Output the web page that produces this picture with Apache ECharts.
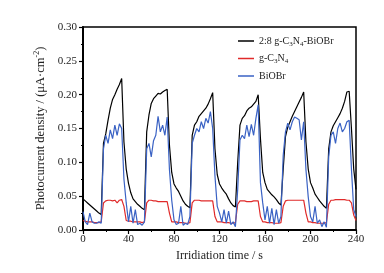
<!DOCTYPE html>
<html>
<head>
<meta charset="utf-8">
<script src="https://cdn.jsdelivr.net/npm/echarts@6/dist/echarts.min.js"></script>
<style>
  html, body { margin: 0; padding: 0; background: #fff; }
  #chart { width: 384px; height: 273px; }
</style>
</head>
<body>
<div id="chart"></div>
<script>
// 时间轴 (s)，步长 2
const times = [
    0, 2, 4, 6, 8, 10, 12, 14, 16, 18, 20, 22, 24, 26, 28, 30, 32, 34, 36, 38,
    40, 42, 44, 46, 48, 50, 52, 54, 56, 58, 60, 62, 64, 66, 68, 70, 72, 74, 76, 78,
    80, 82, 84, 86, 88, 90, 92, 94, 96, 98, 100, 102, 104, 106, 108, 110, 112, 114, 116, 118,
    120, 122, 124, 126, 128, 130, 132, 134, 136, 138, 140, 142, 144, 146, 148, 150, 152, 154, 156, 158,
    160, 162, 164, 166, 168, 170, 172, 174, 176, 178, 180, 182, 184, 186, 188, 190, 192, 194, 196, 198,
    200, 202, 204, 206, 208, 210, 212, 214, 216, 218, 220, 222, 224, 226, 228, 230, 232, 234, 236, 238,
    240
];

// 2:8 g-C3N4-BiOBr
const composite = [
    0.046, 0.043, 0.040, 0.037, 0.034, 0.031, 0.028, 0.025, 0.023, 0.128, 0.142, 0.162, 0.180, 0.193, 0.200, 0.208, 0.215, 0.224, 0.130, 0.090,
    0.069, 0.055, 0.046, 0.042, 0.038, 0.035, 0.032, 0.030, 0.145, 0.170, 0.187, 0.194, 0.198, 0.202, 0.201, 0.204, 0.206, 0.208, 0.125, 0.085,
    0.068, 0.062, 0.057, 0.050, 0.043, 0.038, 0.035, 0.033, 0.140, 0.155, 0.160, 0.168, 0.172, 0.176, 0.180, 0.186, 0.194, 0.203, 0.120, 0.082,
    0.068, 0.062, 0.057, 0.053, 0.046, 0.040, 0.036, 0.034, 0.100, 0.155, 0.165, 0.169, 0.176, 0.180, 0.182, 0.186, 0.190, 0.200, 0.135, 0.085,
    0.070, 0.060, 0.056, 0.052, 0.049, 0.045, 0.040, 0.037, 0.090, 0.138, 0.152, 0.160, 0.168, 0.175, 0.182, 0.189, 0.196, 0.204, 0.130, 0.090,
    0.070, 0.062, 0.053, 0.048, 0.043, 0.039, 0.035, 0.032, 0.120, 0.145, 0.154, 0.160, 0.166, 0.172, 0.180, 0.190, 0.204, 0.205, 0.150, 0.090,
    0.060
];

// g-C3N4
const gcn = [
    0.014, 0.013, 0.012, 0.012, 0.012, 0.011, 0.011, 0.011, 0.012, 0.040, 0.043, 0.044, 0.044, 0.043, 0.044, 0.040, 0.044, 0.045, 0.035, 0.014,
    0.013, 0.013, 0.012, 0.012, 0.012, 0.012, 0.011, 0.012, 0.040, 0.044, 0.044, 0.043, 0.043, 0.042, 0.042, 0.042, 0.042, 0.042, 0.025, 0.012,
    0.012, 0.012, 0.011, 0.011, 0.011, 0.010, 0.010, 0.011, 0.040, 0.044, 0.044, 0.044, 0.043, 0.043, 0.043, 0.043, 0.043, 0.043, 0.020, 0.012,
    0.012, 0.012, 0.011, 0.011, 0.011, 0.010, 0.010, 0.011, 0.038, 0.043, 0.043, 0.043, 0.042, 0.042, 0.042, 0.043, 0.043, 0.043, 0.020, 0.012,
    0.012, 0.011, 0.011, 0.011, 0.010, 0.010, 0.010, 0.011, 0.035, 0.043, 0.044, 0.044, 0.044, 0.044, 0.044, 0.044, 0.044, 0.044, 0.025, 0.012,
    0.012, 0.011, 0.011, 0.010, 0.010, 0.010, 0.010, 0.011, 0.038, 0.044, 0.044, 0.045, 0.045, 0.045, 0.045, 0.045, 0.044, 0.044, 0.040, 0.022,
    0.014
];

// BiOBr
const biobr = [
    0.027, 0.012, 0.008, 0.025, 0.012, 0.010, 0.010, 0.012, 0.010, 0.120, 0.140, 0.128, 0.148, 0.135, 0.155, 0.140, 0.157, 0.150, 0.075, 0.040,
    0.012, 0.035, 0.010, 0.030, 0.008, 0.010, 0.007, 0.012, 0.120, 0.128, 0.108, 0.132, 0.140, 0.168, 0.145, 0.155, 0.140, 0.167, 0.089, 0.044,
    0.015, 0.008, 0.010, 0.035, 0.007, 0.010, 0.008, 0.020, 0.128, 0.140, 0.150, 0.145, 0.160, 0.150, 0.165, 0.158, 0.175, 0.150, 0.080, 0.035,
    0.025, 0.012, 0.030, 0.010, 0.028, 0.008, 0.012, 0.005, 0.060, 0.133, 0.140, 0.135, 0.155, 0.138, 0.156, 0.140, 0.165, 0.185, 0.070, 0.040,
    0.015, 0.035, 0.010, 0.032, 0.008, 0.030, 0.010, 0.020, 0.110, 0.145, 0.158, 0.148, 0.160, 0.167, 0.165, 0.163, 0.133, 0.160, 0.089, 0.049,
    0.020, 0.012, 0.035, 0.010, 0.015, 0.005, 0.012, 0.004, 0.108, 0.140, 0.145, 0.128, 0.150, 0.158, 0.145, 0.150, 0.160, 0.162, 0.090, 0.030,
    0.020
];

const seriesNames = ['2:8 g-C3N4-BiOBr', 'g-C3N4', 'BiOBr'];
const seriesLabels = {
    '2:8 g-C3N4-BiOBr': '2:8 g-C{sub|3}N{sub|4}-BiOBr',
    'g-C3N4': 'g-C{sub|3}N{sub|4}',
    'BiOBr': 'BiOBr'
};

const font = 'Liberation Serif';
const pair = (arr) => times.map((t, i) => [t, arr[i]]);

const chart = echarts.init(document.getElementById('chart'));
chart.setOption({
    animation: false,
    backgroundColor: '#fff',
    grid: {
        left: 83, right: 28, top: 27, bottom: 43,
        show: true, borderColor: '#000', borderWidth: 1.5
    },
    legend: {
        orient: 'vertical',
        left: 233, top: 31,
        icon: 'rect',
        itemWidth: 16, itemHeight: 1.5, itemGap: 6, itemTextGap: 4,
        data: seriesNames,
        formatter: (name) => seriesLabels[name],
        textStyle: {
            fontFamily: font, fontSize: 10, color: '#222',
            rich: { sub: { fontFamily: font, fontSize: 7, color: '#222', verticalAlign: 'bottom', padding: [6, 0, 0, 0] } }
        }
    },
    xAxis: {
        type: 'value', min: 0, max: 240, interval: 40,
        name: 'Irridiation time / s', nameLocation: 'middle', nameGap: 19,
        nameTextStyle: { fontFamily: font, fontSize: 12, color: '#222' },
        axisLine: { onZero: false, lineStyle: { color: '#000', width: 2 } },
        axisTick: { length: 4, lineStyle: { color: '#000', width: 1.2 } },
        minorTick: { show: true, splitNumber: 2, length: 2, lineStyle: { color: '#000', width: 1 } },
        axisLabel: { fontFamily: font, fontSize: 11, color: '#222', margin: 4 },
        splitLine: { show: false }
    },
    yAxis: {
        type: 'value', min: 0, max: 0.3, interval: 0.05,
        name: 'Photocurrent density / (μA·cm{sup|-2})', nameLocation: 'middle', nameGap: 30,
        nameTextStyle: {
            fontFamily: font, fontSize: 12.5, color: '#222',
            rich: { sup: { fontFamily: font, fontSize: 8, color: '#222', verticalAlign: 'top', padding: [0, 0, 6, 0] } }
        },
        axisLine: { show: true, lineStyle: { color: '#000', width: 2 } },
        axisTick: { show: true, length: 4, lineStyle: { color: '#000', width: 1.2 } },
        minorTick: { show: true, splitNumber: 2, length: 2, lineStyle: { color: '#000', width: 1 } },
        axisLabel: { fontFamily: font, fontSize: 11, color: '#222', margin: 6, formatter: (v) => v.toFixed(2) },
        splitLine: { show: false }
    },
    series: [
        { name: seriesNames[0], type: 'line', data: pair(composite), symbol: 'none', lineStyle: { color: '#000', width: 1.2 }, itemStyle: { color: '#000' }, z: 3 },
        { name: seriesNames[1], type: 'line', data: pair(gcn), symbol: 'none', lineStyle: { color: '#e02a2a', width: 1.2 }, itemStyle: { color: '#e02a2a' }, z: 2 },
        { name: seriesNames[2], type: 'line', data: pair(biobr), symbol: 'none', lineStyle: { color: '#3a62c4', width: 1.2 }, itemStyle: { color: '#3a62c4' }, z: 4 }
    ]
});
</script>
</body>
</html>
